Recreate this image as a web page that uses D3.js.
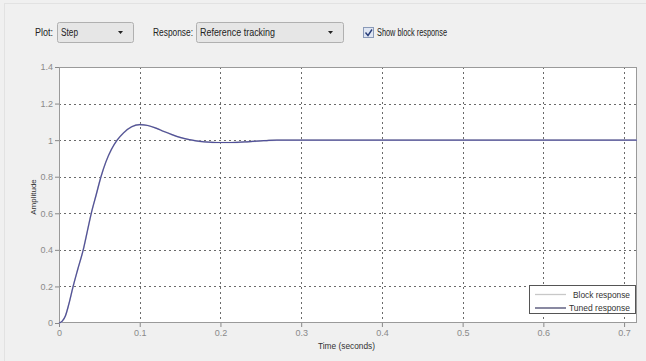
<!DOCTYPE html>
<html><head><meta charset="utf-8">
<script src="https://cdn.jsdelivr.net/npm/d3@7"></script>
<style>
html,body{margin:0;padding:0;background:#f0f0f0;}
svg{display:block;font-family:"Liberation Sans",Arial,sans-serif;}
</style></head>
<body><svg id="c" width="646" height="361"></svg>
<script>
const timeValues = [0,0.004,0.008,0.012,0.0175,0.023,0.03,0.035,0.04,0.046,0.052,0.058,0.065,0.072,0.08,0.09,0.1,0.11,0.12,0.13,0.14,0.15,0.16,0.17,0.18,0.19,0.2,0.21,0.22,0.23,0.24,0.25,0.26,0.27,0.28,0.3,0.4,0.5,0.6,0.7,0.716];
const amplitudeValues = [0,0.01,0.04,0.1,0.2,0.29,0.4,0.5,0.6,0.7,0.8,0.88,0.95,1.0,1.04,1.073,1.085,1.08,1.066,1.047,1.03,1.015,1.004,0.996,0.991,0.988,0.987,0.987,0.988,0.99,0.993,0.996,0.999,1.0,1.0,1.0,1.0,1.0,1.0,1.0,1.0];
const xTicks = [0,0.1,0.2,0.3,0.4,0.5,0.6,0.7];
const yTicks = [0,0.2,0.4,0.6,0.8,1,1.2,1.4];
const legendLabels = ["Block response","Tuned response"];
const legendColors = ["#c8c8c8","#4a4a6e"];

const svg = d3.select("#c");
svg.append("rect").attr("x",4.5).attr("y",3.5).attr("width",660).attr("height",400).attr("fill","none").attr("stroke","#e2e2e2");

// toolbar
const tb = svg.append("g").style("font-size","10px").attr("fill","#222");
function txt(x,yy,s,len){
  return tb.append("text").attr("x",x).attr("y",yy).attr("textLength",len).attr("lengthAdjust","spacingAndGlyphs").text(s);
}
function dropdown(x,w,label,len){
  const g = tb.append("g");
  g.append("rect").attr("x",x+0.5).attr("y",22.5).attr("width",w).attr("height",20).attr("rx",2)
    .attr("fill","#e6e6e6").attr("stroke","#b0b0b0");
  txt(x+4,36,label,len);
  g.append("path").attr("d",`M${x+w-15},31 l5,0 l-2.5,3z`).attr("fill","#222");
}
txt(35,36,"Plot:",18);
dropdown(57,76,"Step",17);
txt(153,36,"Response:",40);
dropdown(196,147,"Reference tracking",75);
tb.append("rect").attr("x",363.5).attr("y",27.5).attr("width",10).attr("height",10).attr("fill","#dfe6f3").attr("stroke","#8a9ab8");
tb.append("path").attr("d","M365.5,32.5 l2.5,3 l4,-6").attr("fill","none").attr("stroke","#2a3f7a").attr("stroke-width",1.4);
txt(377,36,"Show block response",70);

// plot
const L=59,R=637,T=67,B=323;
const x = d3.scaleLinear().domain([0,0.716]).range([L,R]);
const y = d3.scaleLinear().domain([0,1.4]).range([B,T]);
svg.append("rect").attr("x",L).attr("y",T).attr("width",R-L).attr("height",B-T).attr("fill","#fff");

const grid = svg.append("g").attr("stroke","#6a6a6a").attr("stroke-dasharray","2,3").attr("stroke-width",1);
grid.selectAll(".gx").data(xTicks.filter(d=>d>0)).join("line")
  .attr("x1",d=>Math.round(x(d))+0.5).attr("x2",d=>Math.round(x(d))+0.5).attr("y1",T).attr("y2",B);
grid.selectAll(".gy").data(yTicks.filter(d=>d>0&&d<1.4)).join("line")
  .attr("y1",d=>Math.round(y(d))+0.5).attr("y2",d=>Math.round(y(d))+0.5).attr("x1",L).attr("x2",R);

const xAxis = d3.axisBottom(x).tickValues(xTicks).tickSize(4).tickPadding(3).tickFormat(d=>d===0?"0":d3.format(".1f")(d));
const yAxis = d3.axisLeft(y).tickValues(yTicks).tickSize(4).tickPadding(2).tickFormat(d=>d===0||d===1?String(d):d3.format(".1f")(d));
const gx = svg.append("g").attr("transform",`translate(0,${B})`).call(xAxis);
const gy = svg.append("g").attr("transform",`translate(${L},0)`).call(yAxis);
[gx,gy].forEach(g=>{
  g.select(".domain").remove();
  g.selectAll("line").attr("stroke","#888");
  g.selectAll("text").attr("fill","#8a8a8a").style("font-size","9px").style("font-family","'Liberation Sans',Arial,sans-serif");
});
svg.append("rect").attr("x",L+0.5).attr("y",T+0.5).attr("width",R-L-1).attr("height",B-T-1).attr("fill","none").attr("stroke","#9a9a9a");

const data = timeValues.map((t,i)=>[t,amplitudeValues[i]]);
const line = d3.line().x(d=>x(d[0])).y(d=>y(d[1])).curve(d3.curveMonotoneX);
svg.append("path").datum(data).attr("d",line).attr("fill","none").attr("stroke",legendColors[0]).attr("stroke-width",1.6);
svg.append("path").datum(data).attr("d",line).attr("fill","none").attr("stroke","#50509a").attr("stroke-width",1.2);

// labels
svg.append("text").attr("x",318).attr("y",349).attr("textLength",57).attr("lengthAdjust","spacingAndGlyphs").style("font-size","9px").attr("fill","#333").text("Time (seconds)");
svg.append("text").attr("transform","translate(36,197) rotate(-90)").attr("text-anchor","middle").style("font-size","8px").attr("fill","#333").text("Amplitude");

// legend
const lg = svg.append("g");
lg.append("rect").attr("x",529.5).attr("y",285.5).attr("width",106).attr("height",28).attr("fill","#fff").attr("stroke","#555");
const legendLens = [57,61];
legendLabels.forEach((lab,i)=>{
  const yy = 294.5 + i*13.5;
  lg.append("line").attr("x1",535).attr("x2",566).attr("y1",yy).attr("y2",yy).attr("stroke",legendColors[i]).attr("stroke-width",1.3);
  lg.append("text").attr("x",630-legendLens[i]).attr("y",yy+3).attr("textLength",legendLens[i]).attr("lengthAdjust","spacingAndGlyphs").style("font-size","9px").attr("fill","#333").text(lab);
});
</script></body></html>
